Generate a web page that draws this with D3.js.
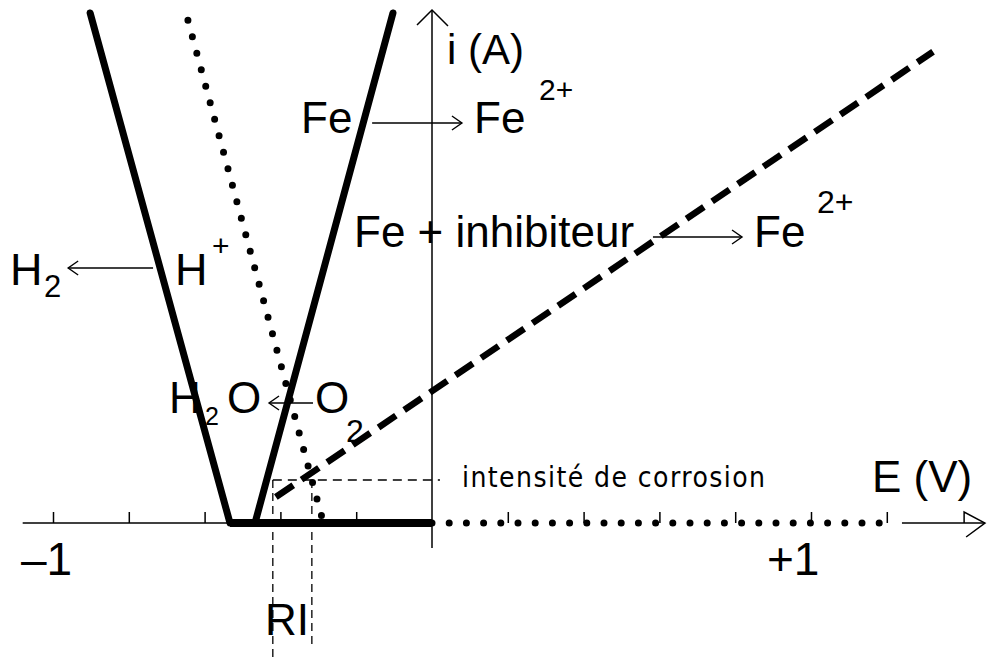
<!DOCTYPE html>
<html>
<head>
<meta charset="utf-8">
<script src="https://cdn.jsdelivr.net/npm/d3@7"></script>
<style>
  html, body { margin: 0; padding: 0; background: #fff; }
  svg { display: block; }
</style>
</head>
<body>
<svg id="chart" width="990" height="662"></svg>
<script>
// Potential axis (V): tick positions and labelled values
const tickValues = [-1, -0.8, -0.6, -0.4, -0.2, 0.2, 0.4, 0.6, 0.8, 1, 1.2];
const tickLabelValues = [-1, 1];
const tickLabelTexts = ["\u20131", "+1"];

// Polarisation curves as [E (V), i (arbitrary units)]
const reductionH = [[-0.533, 0], [-0.902, 10]];          // H+ -> H2
const oxidationFe = [[-0.467, 0], [-0.103, 10]];         // Fe -> Fe2+
const oxidationFeInhib = [[-0.412, 0.51], [1.322, 9.24]]; // Fe + inhibiteur -> Fe2+
const reductionO2 = [[-0.644, 9.86], [-0.290, 0.10]];    // O2 -> H2O
const zeroCurrent = [[-0.533, 0], [0, 0]];
const zeroCurrentDotted = [[0, 0], [1.2, 0]];

// Corrosion current and the two marked potentials
const corrosionCurrent = 0.843;
const markedPotentials = [-0.420, -0.317];
const markedPotentialEnds = [-2.73, -2.45];

// Reaction arrows: [E start, E end, i level]
const reactionArrowFrom = [-0.158, 0.583, -0.736, -0.314];
const reactionArrowTo   = [0.079, 0.818, -0.960, -0.430];
const reactionArrowLevel = [7.843, 5.608, 5.0, 2.353];

const svg = d3.select("#chart");
const font = "'Liberation Sans', Arial, Helvetica, sans-serif";

svg.append("rect").attr("width", 990).attr("height", 662).attr("fill", "#fff");

const x = d3.scaleLinear().domain([-1, 1]).range([53, 811]);
const y = d3.scaleLinear().domain([0, 10]).range([523, 13]);
const line = d3.line().x(d => x(d[0])).y(d => y(d[1]));

// ---- axes ----
const axisG = svg.append("g").attr("stroke", "#000").attr("fill", "none").attr("stroke-width", 1.5);

// negative part of the E axis
axisG.append("line")
  .attr("x1", x(-1.08)).attr("x2", x(0))
  .attr("y1", y(0)).attr("y2", y(0));

// arrow at the end of the E axis
const ax0 = x(1.24), ax1 = x(1.459), axh = x(1.404), ay = y(0);
axisG.append("line").attr("x1", ax0).attr("x2", ax1).attr("y1", ay).attr("y2", ay);
axisG.append("path").attr("d", `M${axh},${ay} V${ay - 11} L${ax1},${ay} L${axh + 2},${ay + 14}`);

// current axis with arrow
const x0 = x(0), yTop = y(10.06);
axisG.append("line").attr("x1", x0).attr("x2", x0).attr("y1", yTop).attr("y2", y(-0.49));
axisG.append("path").attr("d", `M${x0 - 15},${yTop + 15} L${x0},${yTop} L${x0 + 16},${yTop + 16}`);

// ticks on the E axis
const tickAxis = d3.axisTop(x).tickValues(tickValues).tickSize(11).tickFormat("");
const tickG = svg.append("g").attr("transform", `translate(0,${y(0)})`).call(tickAxis);
tickG.select(".domain").remove();
tickG.selectAll(".tick line").attr("stroke", "#000").attr("stroke-width", 1.5);

// ---- corrosion guides ----
const guideG = svg.append("g").attr("stroke", "#000").attr("fill", "none").attr("stroke-width", 1.3);
guideG.append("line")
  .attr("x1", x(markedPotentials[0])).attr("x2", x(0.021))
  .attr("y1", y(corrosionCurrent)).attr("y2", y(corrosionCurrent))
  .attr("stroke-dasharray", "9,6");
guideG.selectAll("line.v").data(markedPotentials).join("line").attr("class", "v")
  .attr("x1", d => x(d)).attr("x2", d => x(d))
  .attr("y1", y(corrosionCurrent))
  .attr("y2", (d, i) => y(markedPotentialEnds[i]))
  .attr("stroke-dasharray", "8,5");

// ---- curves ----
const curveG = svg.append("g").attr("fill", "none").attr("stroke", "#000");

curveG.append("path").datum(zeroCurrent).attr("d", line)
  .attr("stroke-width", 8).attr("stroke-linecap", "butt");
curveG.append("path").datum(reductionH).attr("d", line)
  .attr("stroke-width", 7).attr("stroke-linecap", "round");
curveG.append("path").datum(oxidationFe).attr("d", line)
  .attr("stroke-width", 7).attr("stroke-linecap", "round");
curveG.append("path").datum(oxidationFeInhib).attr("d", line)
  .attr("stroke-width", 6.5).attr("stroke-dasharray", "21,10");
curveG.append("path").datum(reductionO2).attr("d", line)
  .attr("stroke-width", 7).attr("stroke-linecap", "round").attr("stroke-dasharray", "0,17.1");
curveG.append("path").datum(zeroCurrentDotted).attr("d", line)
  .attr("stroke-width", 7).attr("stroke-linecap", "round").attr("stroke-dasharray", "0,17.2");

// ---- reaction arrows ----
const arrowG = svg.append("g").attr("fill", "none").attr("stroke", "#000").attr("stroke-width", 1.4);
reactionArrowFrom.forEach((e0, i) => {
  const xa = x(e0), xb = x(reactionArrowTo[i]), ya = y(reactionArrowLevel[i]);
  const dir = xb > xa ? 1 : -1;
  arrowG.append("line").attr("x1", xa).attr("x2", xb).attr("y1", ya).attr("y2", ya);
  arrowG.append("path")
    .attr("d", `M${xb - dir * 10},${ya - 7} L${xb},${ya} L${xb - dir * 10},${ya + 7}`);
});

// ---- text ----
const labels = [
  { t: "i (A)", x: 447, y: 64, s: 42 },
  { t: "Fe", x: 301, y: 133, s: 44 },
  { t: "Fe", x: 474, y: 133, s: 44 },
  { t: "2+", x: 539, y: 100, s: 30 },
  { t: "Fe + inhibiteur", x: 354, y: 247, s: 44 },
  { t: "Fe", x: 754, y: 247, s: 44 },
  { t: "2+", x: 817, y: 213, s: 32 },
  { t: "H", x: 10, y: 285, s: 45 },
  { t: "2", x: 44, y: 297, s: 31 },
  { t: "H", x: 175, y: 285, s: 45 },
  { t: "+", x: 212, y: 256, s: 30 },
  { t: "H", x: 169, y: 413, s: 44 },
  { t: "2", x: 205, y: 425, s: 25 },
  { t: "O", x: 227, y: 413, s: 44 },
  { t: "O", x: 315, y: 413, s: 44 },
  { t: "2", x: 346, y: 442, s: 32 },
  { t: "E (V)", x: 872, y: 492, s: 44 },
  { t: "RI", x: 265, y: 635, s: 44 }
];
svg.append("g").selectAll("text").data(labels).join("text")
  .attr("x", d => d.x).attr("y", d => d.y)
  .attr("font-family", font).attr("font-size", d => d.s)
  .attr("fill", "#000")
  .text(d => d.t);

// tick labels on the E axis
const tickLabelShift = [-32, -44];
svg.append("g").selectAll("text").data(tickLabelValues).join("text")
  .attr("x", (d, i) => x(d) + tickLabelShift[i]).attr("y", 575)
  .attr("font-family", font).attr("font-size", 46).attr("fill", "#000")
  .text((d, i) => tickLabelTexts[i]);

svg.append("text")
  .attr("x", 462).attr("y", 487)
  .attr("font-family", "'Liberation Sans Narrow', 'DejaVu Sans Condensed', " + font)
  .attr("font-size", 28)
  .attr("textLength", 303).attr("lengthAdjust", "spacing")
  .attr("fill", "#000")
  .text("intensité de corrosion");
</script>
</body>
</html>
